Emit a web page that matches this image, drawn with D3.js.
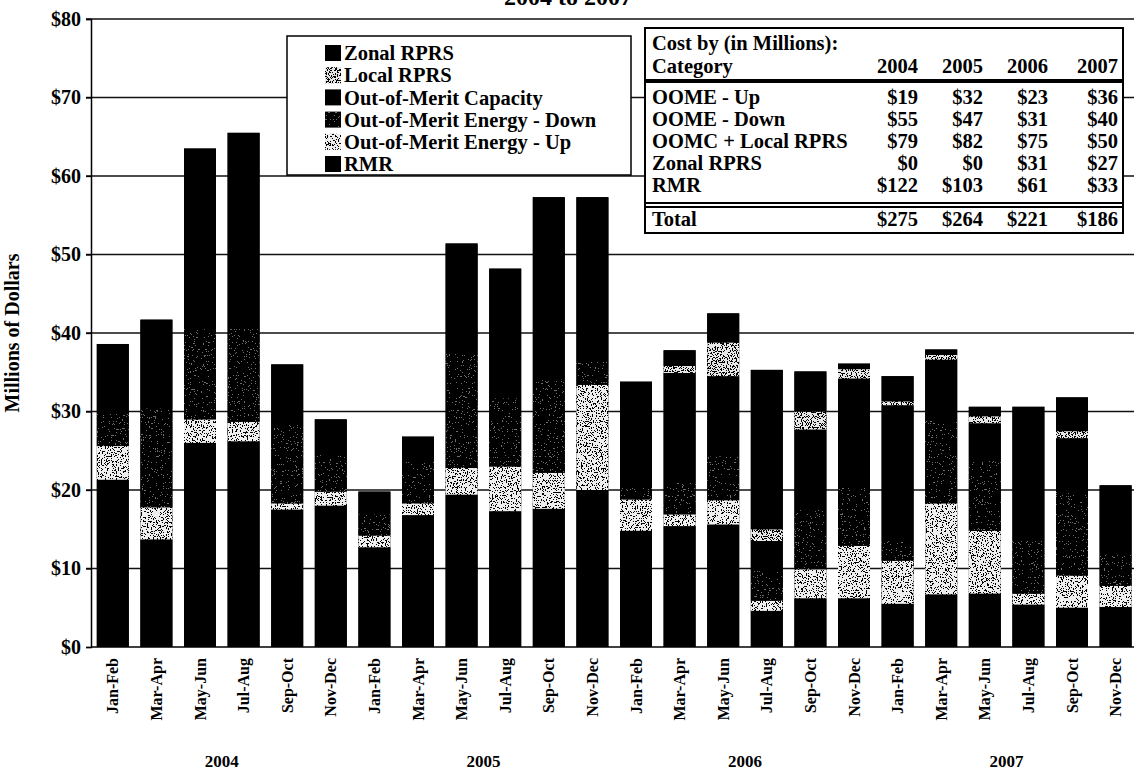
<!DOCTYPE html>
<html>
<head>
<meta charset="utf-8">
<script src="https://cdn.jsdelivr.net/npm/d3@7/dist/d3.min.js"></script>
<style>
  html, body { margin: 0; padding: 0; background: #fff; }
  svg { display: block; }
  text { font-family: "Liberation Serif", "Times New Roman", serif; font-weight: bold; fill: #000; }
</style>
</head>
<body>
<svg id="chart" width="1134" height="777"></svg>
<script>
// Two-month periods, repeated for each year
const periods = ["Jan-Feb", "Mar-Apr", "May-Jun", "Jul-Aug", "Sep-Oct", "Nov-Dec"];
const years = ["2004", "2005", "2006", "2007"];

// Cost per period, millions of dollars (stack order bottom → top)
const rmr       = [21.3, 13.7, 26.0, 26.2, 17.5, 18.0,  12.7, 16.8, 19.4, 17.3, 17.6, 20.0,  14.8, 15.4, 15.6, 4.6, 6.2, 6.2,  5.5, 6.7, 6.8, 5.4, 5.0, 5.1];
const oomeUp    = [4.3, 4.1, 3.0, 2.5, 0.8, 1.8,  1.5, 1.5, 3.4, 5.7, 4.6, 13.4,  4.0, 1.5, 3.1, 1.3, 3.7, 6.7,  5.5, 11.6, 8.0, 1.4, 4.1, 2.7];
const oomeDown  = [4.2, 12.6, 11.5, 11.8, 10.0, 4.7,  2.7, 5.3, 14.7, 8.7, 11.9, 3.0,  1.5, 4.0, 5.6, 3.8, 7.6, 7.4,  2.5, 10.5, 8.9, 6.7, 10.8, 4.0];
const oomc      = [8.8, 11.3, 23.0, 25.0, 7.7, 4.5,  2.9, 3.2, 13.9, 16.5, 23.2, 20.9,  13.5, 14.0, 10.2, 3.8, 10.2, 13.9,  17.3, 7.8, 4.8, 5.1, 6.7, 4.4];
const localRprs = [0, 0, 0, 0, 0, 0,  0, 0, 0, 0, 0, 0,  0, 0.9, 4.3, 1.5, 2.3, 1.2,  0.5, 0.6, 0.9, 0, 0.9, 0];
const zonalRprs = [0, 0, 0, 0, 0, 0,  0, 0, 0, 0, 0, 0,  0, 2.0, 3.7, 20.3, 5.1, 0.7,  3.2, 0.7, 1.2, 12.0, 4.3, 4.4];

const seriesNames = ["RMR", "Out-of-Merit Energy - Up", "Out-of-Merit Energy - Down",
                     "Out-of-Merit Capacity", "Local RPRS", "Zonal RPRS"];
const seriesValues = [rmr, oomeUp, oomeDown, oomc, localRprs, zonalRprs];

// Y axis ticks
const yTicks = [0, 10, 20, 30, 40, 50, 60, 70, 80];

// Summary table
const tableTitle = "Cost by (in Millions):";
const tableRowLabels = ["OOME - Up", "OOME - Down", "OOMC + Local RPRS", "Zonal RPRS", "RMR"];
const cost2004 = [19, 55, 79, 0, 122];
const cost2005 = [32, 47, 82, 0, 103];
const cost2006 = [23, 31, 75, 31, 61];
const cost2007 = [36, 40, 50, 27, 33];
const costTotals = [275, 264, 221, 186];

// ---------------------------------------------------------------------------
const svg = d3.select("#chart");
const W = 1134, H = 777;
const margin = { left: 91, top: 19 };
const plotBottom = 647;

svg.append("rect").attr("width", W).attr("height", H).attr("fill", "#fff");

// Speckled fills (halftone look of the printed shades)
const defs = svg.append("defs");
function speckle(id, base, dot, freq, offset, seed) {
  const f = defs.append("filter").attr("id", id)
    .attr("x", 0).attr("y", 0).attr("width", 1).attr("height", 1)
    .attr("color-interpolation-filters", "sRGB");
  f.append("feFlood").attr("flood-color", base).attr("result", "bg");
  f.append("feTurbulence").attr("type", "fractalNoise").attr("baseFrequency", freq)
    .attr("numOctaves", 2).attr("seed", seed).attr("result", "noise");
  f.append("feColorMatrix").attr("in", "noise").attr("type", "matrix")
    .attr("values", `0 0 0 0 0  0 0 0 0 0  0 0 0 0 0  10 0 0 0 ${offset}`).attr("result", "m");
  const ct = f.append("feComponentTransfer").attr("in", "m").attr("result", "mask");
  ct.append("feFuncA").attr("type", "discrete").attr("tableValues", "0 1");
  f.append("feFlood").attr("flood-color", dot).attr("result", "dc");
  f.append("feComposite").attr("in", "dc").attr("in2", "mask").attr("operator", "in").attr("result", "dots");
  const mg = f.append("feMerge").attr("result", "merged");
  mg.append("feMergeNode").attr("in", "bg");
  mg.append("feMergeNode").attr("in", "dots");
  f.append("feComposite").attr("in", "merged").attr("in2", "SourceAlpha").attr("operator", "in");
}
speckle("spUp", "#eeeeee", "#000", 0.8, -5.4, 3);
speckle("spDown", "#000", "#6e6e6e", 0.85, -6.4, 5);
speckle("spLocal", "#e6e6e6", "#000", 0.8, -5.0, 9);

const seriesFill = ["#000", "#ccc", "#222", "#000", "#bbb", "#000"];
const seriesFilter = [null, "url(#spUp)", "url(#spDown)", null, "url(#spLocal)", null];

// Scales
const x = d3.scaleBand()
  .domain(d3.range(years.length * periods.length))
  .range([margin.left, margin.left + 24 * 43.6])
  .paddingInner(0.266)
  .paddingOuter(0.133);
const y = d3.scaleLinear().domain([0, 80]).range([plotBottom, margin.top]);

// Gridlines
svg.append("g").selectAll("line").data(yTicks.filter(d => d > 0)).join("line")
  .attr("x1", margin.left - 5).attr("x2", W)
  .attr("y1", d => y(d)).attr("y2", d => y(d))
  .attr("stroke", "#111").attr("stroke-width", 1.3);

// Y axis
const yAxis = d3.axisLeft(y).tickValues(yTicks).tickSize(5).tickPadding(5)
  .tickFormat(d => "$" + d);
const gy = svg.append("g").attr("transform", `translate(${margin.left},0)`).call(yAxis);
gy.select(".domain").attr("stroke", "#000").attr("stroke-width", 1.5);
gy.selectAll(".tick line").attr("stroke", "#000").attr("stroke-width", 1.3);
gy.selectAll(".tick text").style("font-size", "20px").style("font-family", "Liberation Serif")
  .style("font-weight", "bold").attr("fill", "#000");

// Y axis title
svg.append("text")
  .attr("transform", `translate(19,${(plotBottom + margin.top) / 2}) rotate(-90)`)
  .attr("text-anchor", "middle").style("font-size", "20px")
  .text("Millions of Dollars");

// Stacked bars
const stackData = d3.range(rmr.length).map(i => {
  const o = { i };
  seriesValues.forEach((s, k) => { o[k] = s[i]; });
  return o;
});
const stacked = d3.stack().keys(d3.range(seriesValues.length))(stackData);
const barTop = stacked[stacked.length - 1];

// Solid backing for each full bar so adjoining black layers read as one block
svg.append("g").selectAll("rect").data(barTop).join("rect")
  .attr("x", d => x(d.data.i))
  .attr("width", x.bandwidth())
  .attr("y", d => y(d[1]))
  .attr("height", d => y(0) - y(d[1]))
  .attr("fill", "#000");

const layers = svg.append("g").selectAll("g").data(stacked).join("g")
  .attr("fill", (d, k) => seriesFill[k]);
layers.selectAll("rect").data(d => d.filter(p => p[1] - p[0] > 0)).join("rect")
  .attr("x", d => x(d.data.i))
  .attr("width", x.bandwidth())
  .attr("y", d => y(d[1]))
  .attr("height", d => y(d[0]) - y(d[1]))
  .each(function () {
    const k = d3.select(this.parentNode).datum().key;
    if (seriesFilter[k]) d3.select(this).attr("filter", seriesFilter[k]);
  });

// X axis line
svg.append("line").attr("x1", margin.left).attr("x2", W)
  .attr("y1", plotBottom).attr("y2", plotBottom)
  .attr("stroke", "#000").attr("stroke-width", 1.5);

// Period labels (vertical)
const xAxis = d3.axisBottom(x).tickSize(0).tickFormat(i => periods[i % periods.length]);
const gx = svg.append("g").attr("transform", `translate(0,${plotBottom})`).call(xAxis);
gx.select(".domain").remove();
gx.selectAll(".tick text")
  .attr("transform", "rotate(-90)")
  .attr("x", -11).attr("y", 0).attr("dy", "0.35em")
  .attr("text-anchor", "end")
  .style("font-size", "16px").style("font-family", "Liberation Serif")
  .style("font-weight", "bold").attr("fill", "#000");

// Year labels centred under each group of six periods
svg.append("g").selectAll("text").data(years).join("text")
  .attr("x", (d, j) => (x(j * 6) + x(j * 6 + 5) + x.bandwidth()) / 2)
  .attr("y", 767)
  .attr("text-anchor", "middle").style("font-size", "17px")
  .text(d => d);

// Title (top of page)
svg.append("text").attr("x", 568).attr("y", 5).attr("text-anchor", "middle")
  .style("font-size", "24px").text("2004 to 2007");

// Legend
const legendOrder = [5, 4, 3, 2, 1, 0];
const lg = svg.append("g");
lg.append("rect").attr("x", 287).attr("y", 36).attr("width", 344).attr("height", 139)
  .attr("fill", "#fff").attr("stroke", "#000").attr("stroke-width", 1.5);
const li = lg.selectAll("g").data(legendOrder).join("g")
  .attr("transform", (d, r) => `translate(325,${53 + r * 22.2})`);
li.append("rect").attr("x", 0).attr("y", -8).attr("width", 16).attr("height", 16)
  .attr("fill", k => seriesFill[k])
  .attr("filter", k => seriesFilter[k]);
li.append("text").attr("x", 19).attr("y", 0).attr("dy", "0.35em")
  .style("font-size", "20.5px").text(k => seriesNames[k]);

// Summary table
const tb = svg.append("g");
const tL = 645, tR = 1123, tT = 28, tB = 233;
tb.append("rect").attr("x", tL).attr("y", tT).attr("width", tR - tL).attr("height", tB - tT)
  .attr("fill", "#fff").attr("stroke", "#000").attr("stroke-width", 2);
const colRight = [918, 983, 1048, 1118];
const tfs = "20.5px";
tb.append("text").attr("x", 652).attr("y", 43).attr("dy", "0.35em").style("font-size", tfs).text(tableTitle);
tb.append("text").attr("x", 652).attr("y", 66).attr("dy", "0.35em").style("font-size", tfs).text("Category");
tb.selectAll(".yh").data(years).join("text").attr("class", "yh")
  .attr("x", (d, j) => colRight[j]).attr("y", 66).attr("dy", "0.35em")
  .attr("text-anchor", "end").style("font-size", tfs).text(d => d);
tb.append("line").attr("x1", tL).attr("x2", tR).attr("y1", 81).attr("y2", 81)
  .attr("stroke", "#000").attr("stroke-width", 4);
const yearCols = [cost2004, cost2005, cost2006, cost2007];
const rowY = r => 97 + r * 22;
tableRowLabels.forEach((lab, r) => {
  tb.append("text").attr("x", 652).attr("y", rowY(r)).attr("dy", "0.35em")
    .style("font-size", tfs).text(lab);
  yearCols.forEach((col, j) => {
    tb.append("text").attr("x", colRight[j]).attr("y", rowY(r)).attr("dy", "0.35em")
      .attr("text-anchor", "end").style("font-size", tfs).text("$" + col[r]);
  });
});
tb.append("line").attr("x1", tL).attr("x2", tR).attr("y1", 203).attr("y2", 203)
  .attr("stroke", "#000").attr("stroke-width", 2);
tb.append("line").attr("x1", tL).attr("x2", tR).attr("y1", 207).attr("y2", 207)
  .attr("stroke", "#000").attr("stroke-width", 2);
tb.append("text").attr("x", 652).attr("y", 219).attr("dy", "0.35em").style("font-size", tfs).text("Total");
costTotals.forEach((v, j) => {
  tb.append("text").attr("x", colRight[j]).attr("y", 219).attr("dy", "0.35em")
    .attr("text-anchor", "end").style("font-size", tfs).text("$" + v);
});
</script>
</body>
</html>
